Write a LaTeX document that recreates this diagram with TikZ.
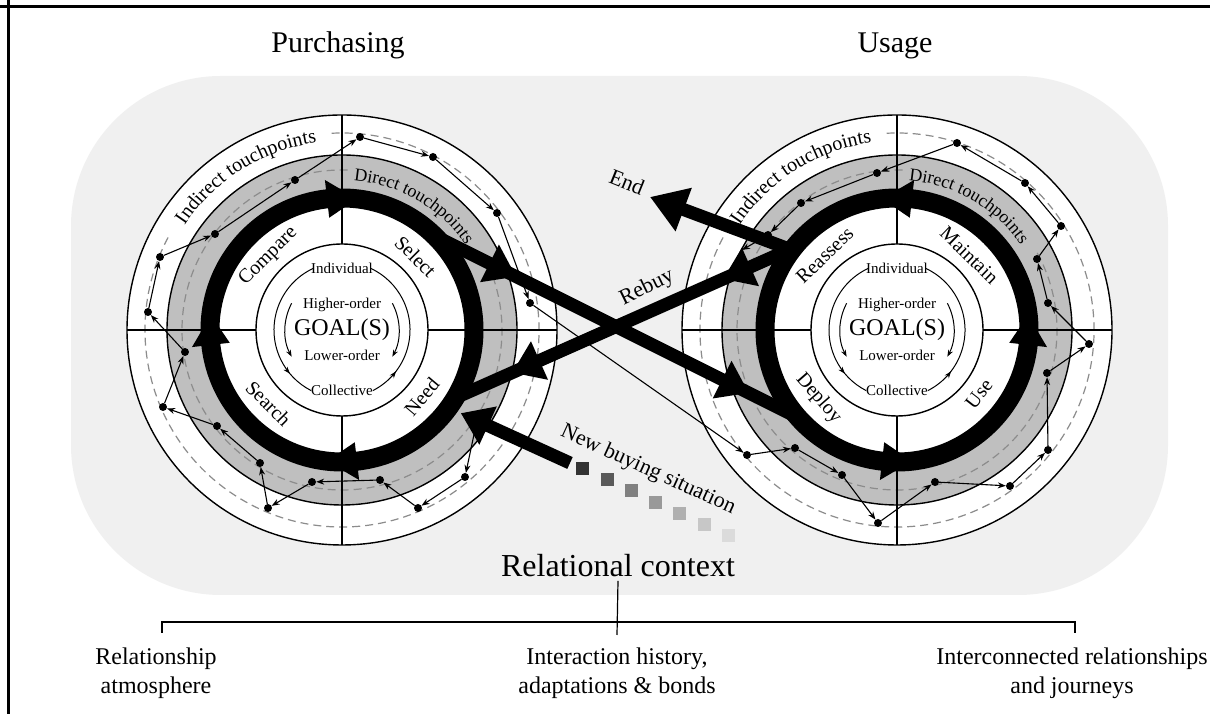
\documentclass[tikz,border=0pt]{standalone}
\usepackage{fontspec}
\setmainfont{Liberation Serif}
\usetikzlibrary{calc,arrows.meta,decorations.text,decorations.markings}

\definecolor{ctxgrey}{gray}{0.94}
\definecolor{ringgrey}{gray}{0.75}
\definecolor{dashgrey}{gray}{0.55}

\newcommand\fs[1]{\fontsize{#1}{\fpeval{1.2*#1}}\selectfont}
% triangle on the thick ring: centre, angle, sense (1 = clockwise)
\newcommand\ringhead[3]{%
  \fill ($(#1)+({#2+(#3)*6.5}:113)$) -- ($(#1)+({#2+(#3)*6.5}:151)$)
        -- ($(#1)+({#2-(#3)*6.5}:132)$) -- cycle;}

\tikzset{
  rim/.style={line width=1.4pt},
  tpdash/.style={dashgrey, line width=1.2pt, dash pattern=on 8pt off 5pt},
  tpdot/.style={circle, fill, inner sep=0pt, minimum size=8pt},
  tplink/.style={line width=1.1pt, -{Stealth[length=8pt,width=6pt]}},
  goalarc/.style={line width=1pt, postaction={decorate},
    decoration={markings, mark=at position #1 with {\arrow{Stealth[length=7pt,width=5pt]}}}},
  phase/.style={font=\fs{20}},
  flow/.style={line width=13pt},
  flowheads/.style 2 args={postaction={decorate},
    decoration={markings,
      mark=at position #1 with {\arrow{Triangle[width=40pt,length=30pt]}},
      mark=at position #2 with {\arrow{Triangle[width=40pt,length=30pt]}}}},
  sidenote/.style={font=\fs{22}},
  ctxitem/.style={font=\fs{24}, align=center},
}

\begin{document}
\begin{tikzpicture}[x=1pt, y=1pt]
        \useasboundingbox (0,0) rectangle (1210,714);
        \fill[white] (0,0) rectangle (1210,714);
        \draw[line width=3.5pt] (0,707.5) -- (1210,707.5);
        \draw[line width=3.5pt] (8.5,714) -- (8.5,0);
        \fill[ctxgrey, rounded corners=150pt] (71,119) rectangle (1168,638);

        \coordinate (L) at (342,384);
        \coordinate (R) at (897,384);

        % the two journey wheels
        \foreach \c in {L,R} {
            \filldraw[rim, fill=white] (\c) circle[radius=215];
            \filldraw[rim, fill=ringgrey] (\c) circle[radius=175];
            \fill[white] (\c) circle[radius=141];
            \draw[tpdash] ($(\c)+(152:197)$) arc[start angle=152, end angle=453, radius=197];
            \draw[tpdash] ($(\c)+(88:160)$) arc[start angle=88, end angle=390, radius=160];
            \foreach \a in {0,90,180,270}
                \draw[rim] ($(\c)+(\a:86)$) -- ($(\c)+(\a:215)$);
            \filldraw[rim, fill=white] (\c) circle[radius=86];
            \path[decorate, decoration={text along path, text align=center,
                text={|\fs{20}|Indirect touchpoints}}]
                ($(\c)+(152:189)$) arc[start angle=152, end angle=92, radius=189];
            \path[decorate, decoration={text along path, text align=center,
                text={|\fs{18}|Direct touchpoints}}]
                ($(\c)+(90:150)$) arc[start angle=90, end angle=30, radius=150];
            \node[font=\fs{24}] (\c-goal) at (\c) {GOAL(S)};
            \node[font=\fs{15}] (\c-hi) at ($(\c)+(0,25)$) {Higher-order};
            \node[font=\fs{15}] (\c-lo) at ($(\c)+(0,-25)$) {Lower-order};
            \node[font=\fs{15}] (\c-ind) at ($(\c)+(0,62)$) {Individual};
            \node[font=\fs{15}] (\c-col) at ($(\c)+(0,-60)$) {Collective};
            \draw[goalarc=0.82] ($(\c)+(115:68)$) arc[start angle=115, end angle=243, radius=68];
            \draw[goalarc=0.2] ($(\c)+(-63:68)$) arc[start angle=-63, end angle=65, radius=68];
            \draw[line width=1pt, -{Stealth[length=7pt,width=5pt]}]
                ($(\c)+(152:57)$) arc[start angle=152, end angle=208, radius=57];
            \draw[line width=1pt, -{Stealth[length=7pt,width=5pt]}]
                ($(\c)+(28:57)$) arc[start angle=28, end angle=-28, radius=57];
        }

        % touchpoints
        \coordinate (tpin) at (476,289);
        \coordinate (tpout) at (742,464);
        \foreach \n/\x/\y in {p1/465/237, p2/418/206, p3/380/234, p4/312/232,
                p5/268/206, p6/260/251, p7/217/288, p8/163/307, p9/185/362,
                p10/148/402, p11/160/457, p12/215/480, p13/295/534, p14/360/577,
                p15/433/557, p16/497/501, p17/530/411,
                q0/747/259, q1/795/266, q2/842/239, q3/878/191, q4/935/232,
                q5/1010/228, q6/1048/264, q7/1047/341, q8/1089/370, q9/1048/411,
                q10/1037/455, q11/1061/488, q12/1025/531, q13/957/571,
                q14/877/541, q15/801/511, q16/768/479}
            \node[tpdot] (\n) at (\x,\y) {};
        \foreach \n [remember=\n as \prev (initially tpin)] in {p1,p2,p3,p4,p5,p6,
                p7,p8,p9,p10,p11,p12,p13,p14,p15,p16,p17,q0,q1,q2,q3,q4,q5,q6,
                q7,q8,q9,q10,q11,q12,q13,q14,q15,q16,tpout}
            \draw[tplink] (\prev) -- (\n);

        % thick cycles
        \draw[line width=19pt] (L) circle[radius=132];
        \draw[line width=19pt] (R) circle[radius=132];
        \foreach \a in {90,180,270} \ringhead{L}{\a}{1};
        \foreach \a in {0,90,270} \ringhead{R}{\a}{-1};

        \node[phase, rotate=45] (cmp) at ($(L)+(135:104)$) {Compare};
        \node[phase, rotate=-45] (sel) at ($(L)+(45:104)$) {Select};
        \node[phase, rotate=-45] (srch) at ($(L)+(225:104)$) {Search};
        \node[phase, rotate=50] (need) at ($(L)+(-40:104)$) {Need};
        \node[phase, rotate=44] (reas) at ($(R)+(134:104)$) {Reassess};
        \node[phase, rotate=-44] (mnt) at ($(R)+(46:104)$) {Maintain};
        \node[phase, rotate=-49] (dep) at ($(R)+(221:104)$) {Deploy};
        \node[phase, rotate=52] (use) at ($(R)+(-38:104)$) {Use};

        % links between purchasing and usage
        \coordinate (selOut) at ($(L)+(43:134)$);
        \coordinate (depIn) at ($(R)+(224:130)$);
        \coordinate (reaOut) at ($(R)+(143:134)$);
        \coordinate (needIn) at ($(L)+(-31:132)$);
        \coordinate (endTip) at (650,517);
        \coordinate (nbsStart) at (570,251);
        \coordinate (nbsTip) at ($(L)+(-35:145)$);
        \draw[flow, flowheads={0.21}{0.85}] (selOut) -- (depIn);
        \draw[flow, flowheads={0.2}{0.83}] (reaOut) -- (needIn);
        \draw[flow, -{Triangle[width=44pt,length=36pt]}] (reaOut) -- (endTip);
        \draw[flow, -{Triangle[width=40pt,length=30pt]}] (nbsStart) -- (nbsTip);
        \foreach \k/\g in {0/80,1/65,2/50,3/40,4/31,5/22,6/14}
            \node[fill=black!\g, minimum size=13pt, inner sep=0pt]
                (sq\k) at ($(nbsStart)+(-24.5:{14+26.7*\k})$) {};

        \node[sidenote, rotate=-22] (end) at (627,532) {End};
        \node[sidenote, rotate=26] (rebuy) at (647,426) {Rebuy};
        \node[sidenote, rotate=-24.5] (nbs) at (648,244) {New buying situation};

        \node[font=\fs{30}, anchor=base] (purch) at (338,661) {Purchasing};
        \node[font=\fs{30}, anchor=base] (usage) at (895,661) {Usage};

        % relational context
        \node[font=\fs{32}, anchor=base] (ctx) at (618,137) {Relational context};
        \coordinate (brL) at (162,92);
        \coordinate (brR) at (1075,92);
        \coordinate (ctxfoot) at (617,79);
        \draw[line width=1.2pt] (ctx.south) -- (ctxfoot);
        \draw[line width=2pt] ($(brL)+(0,-11)$) -- (brL) -- (brR) -- ($(brR)+(0,-11)$);
        \node[ctxitem] (atm) at (156,41) {Relationship\\atmosphere};
        \node[ctxitem] (hist) at (617,41) {Interaction history,\\adaptations \& bonds};
        \node[ctxitem] (jrn) at (1072,41) {Interconnected relationships\\and journeys};
\end{tikzpicture}
\end{document}
